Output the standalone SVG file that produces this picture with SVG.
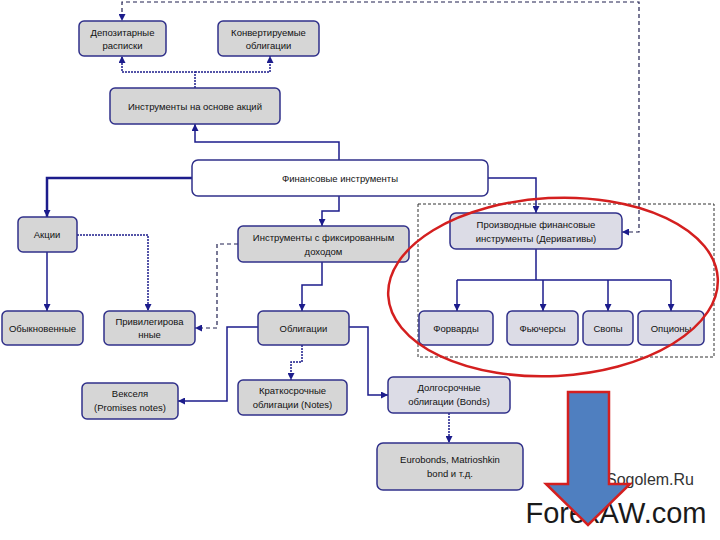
<svg xmlns="http://www.w3.org/2000/svg" width="720" height="540" viewBox="0 0 720 540">
<style>
.box{fill:#d6d6d6;stroke:#30308a;stroke-width:1.5}
.wbox{fill:#ffffff;stroke:#30308a;stroke-width:1.5}
.dbox{fill:#dcdce6;stroke:#30308a;stroke-width:1.5}
text{font-family:"Liberation Sans",Arial,sans-serif;font-size:9.5px;fill:#111;text-anchor:middle}
.c{fill:none;stroke:#1c1c8c;stroke-width:1.5}
.dot{stroke-dasharray:2 1}
.dash{fill:none;stroke:#202050;stroke-width:1.2;stroke-dasharray:4 3}
</style>
<defs>
<marker id="a" viewBox="0 0 10 10" refX="10" refY="5" markerWidth="7" markerHeight="7" orient="auto-start-reverse" markerUnits="userSpaceOnUse">
<path d="M0,0 L10,5 L0,10 z" fill="#1c1c8c"/>
</marker>
</defs>
<rect width="720" height="540" fill="#ffffff"/>
<g id="container"><rect x="418" y="204" width="296" height="153" fill="none" stroke="#333" stroke-width="1" stroke-dasharray="3 2"/></g>
<g id="connectors">
<path class="dash" d="M622,232 H639 V2 H122 V21" marker-start="url(#a)" marker-end="url(#a)"/>
<path class="c dot" d="M195,88 V72 H122 V56" marker-end="url(#a)"/>
<path class="c dot" d="M195,72 H270 V56" marker-end="url(#a)"/>
<path class="c" d="M339,160 V142 H195 V124" marker-end="url(#a)"/>
<path class="c" style="stroke-width:2.5" d="M192,178 H47 V217" marker-end="url(#a)"/>
<path class="c" d="M339,196 V211 H322 V226" marker-end="url(#a)"/>
<path class="c" d="M488,178 H536 V213" marker-end="url(#a)"/>
<path class="c" d="M47,252 V311" marker-end="url(#a)"/>
<path class="c dot" d="M77,235 H148 V311" marker-end="url(#a)"/>
<path class="dash" d="M238,244 H217 V328 H195" marker-end="url(#a)"/>
<path class="c" d="M322,262 V285 H302 V311" marker-end="url(#a)"/>
<path class="c" d="M258,327 H227 V401 H178" marker-end="url(#a)"/>
<path class="c dot" d="M302,345 V362 H291 V380" marker-end="url(#a)"/>
<path class="c" d="M349,327 H368 V395 H388" marker-end="url(#a)"/>
<path class="c dot" d="M449,413 V443" marker-end="url(#a)"/>
<path class="c" d="M536,249 V280 M457,280 H671"/>
<path class="c" d="M457,280 V311" marker-end="url(#a)"/>
<path class="c" d="M543,280 V311" marker-end="url(#a)"/>
<path class="c" d="M608,280 V311" marker-end="url(#a)"/>
<path class="c" d="M671,280 V311" marker-end="url(#a)"/>
</g>
<g id="n1"><rect class="box" x="79" y="21" width="87" height="35" rx="5"/><text x="122.5" y="36">Депозитарные</text><text x="122.5" y="49">расписки</text></g>
<g id="n2"><rect class="box" x="218" y="21" width="101" height="35" rx="5"/><text x="268.5" y="36">Конвертируемые</text><text x="268.5" y="49">облигации</text></g>
<g id="n3"><rect class="box" x="110" y="88" width="170" height="36" rx="5"/><text x="195" y="109.5">Инструменты на основе акций</text></g>
<g id="n4"><rect class="wbox" x="192" y="160" width="296" height="36" rx="6"/><text x="340" y="181.5">Финансовые инструменты</text></g>
<g id="n5"><rect class="box" x="18" y="217" width="59" height="35" rx="5"/><text x="47" y="238">Акции</text></g>
<g id="n6"><rect class="box" x="238" y="226" width="171" height="36" rx="5"/><text x="323.5" y="241">Инструменты с фиксированным</text><text x="323.5" y="255">доходом</text></g>
<g id="n7"><rect class="dbox" x="450" y="213" width="172" height="36" rx="6"/><text x="536" y="228">Производные финансовые</text><text x="536" y="242">инструменты (Деривативы)</text></g>
<g id="n8"><rect class="box" x="2" y="311" width="81" height="34" rx="5"/><text x="42.5" y="331.5">Обыкновенные</text></g>
<g id="n9"><rect class="box" x="104" y="311" width="91" height="34" rx="5"/><text x="149.5" y="325">Привилегирова</text><text x="149.5" y="338">нные</text></g>
<g id="n10"><rect class="box" x="258" y="311" width="91" height="34" rx="5"/><text x="303.5" y="331.5">Облигации</text></g>
<g id="n11"><rect class="box" x="82" y="383" width="96" height="36" rx="5"/><text x="130" y="397">Векселя</text><text x="130" y="411">(Promises notes)</text></g>
<g id="n12"><rect class="box" x="238" y="380" width="109" height="35" rx="5"/><text x="292.5" y="394">Краткосрочные</text><text x="292.5" y="408">облигации (Notes)</text></g>
<g id="n13"><rect class="dbox" x="388" y="377" width="122" height="36" rx="5"/><text x="449" y="391">Долгосрочные</text><text x="449" y="405">облигации (Bonds)</text></g>
<g id="n14"><rect class="box" x="377" y="443" width="146" height="47" rx="6"/><text x="450" y="463">Eurobonds, Matrioshkin</text><text x="450" y="477">bond и т.д.</text></g>
<g id="n15"><rect class="dbox" x="419" y="311" width="74" height="34" rx="5"/><text x="456" y="331.5">Форварды</text></g>
<g id="n16"><rect class="dbox" x="507" y="311" width="71" height="34" rx="5"/><text x="542.5" y="331.5">Фьючерсы</text></g>
<g id="n17"><rect class="dbox" x="583" y="311" width="50" height="34" rx="5"/><text x="608" y="331.5">Свопы</text></g>
<g id="n18"><rect class="dbox" x="638" y="311" width="66" height="34" rx="5"/><text x="671" y="331.5">Опционы</text></g>
<ellipse cx="553" cy="287" rx="165" ry="89" transform="rotate(-3 553 287)" fill="none" stroke="#d41f1f" stroke-width="2.5"/>
<text x="650" y="485" style="font-size:16px;fill:#333">Sogolem.Ru</text>
<text x="616" y="523" style="font-size:29px;fill:#1a1a1a">ForexAW.com</text>
<path d="M568,392 H609 V484 H630 L588,525 L546,484 H568 Z" fill="#4f7fc0" stroke="#d41f1f" stroke-width="2.5"/>
</svg>
